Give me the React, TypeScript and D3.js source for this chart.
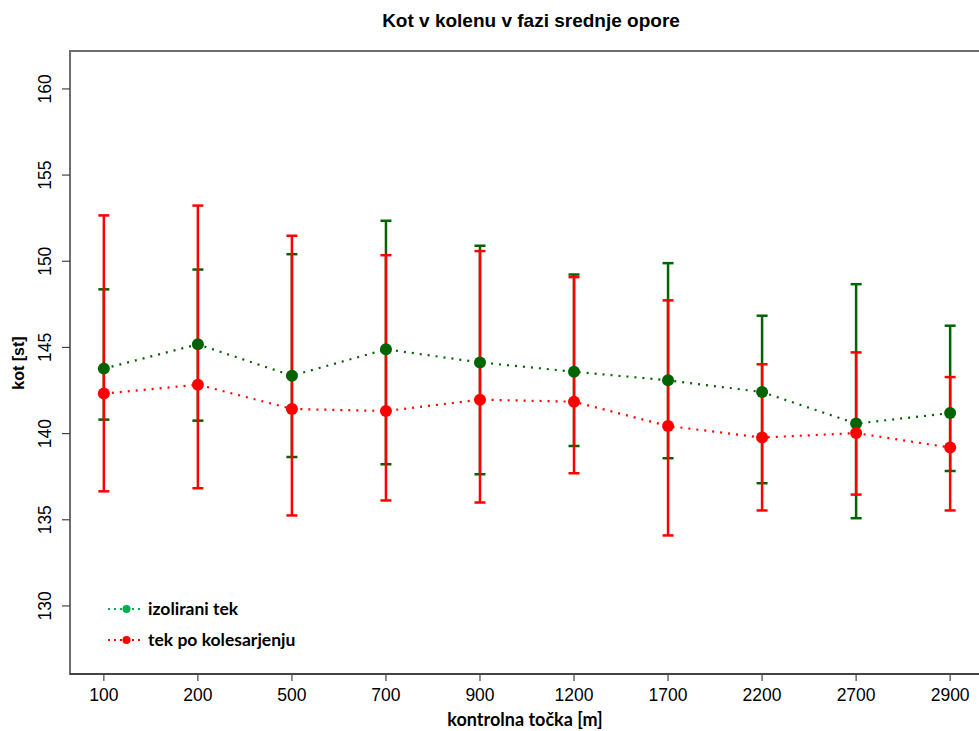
import React from 'react'
import * as d3 from 'd3'

const categories = ['100', '200', '500', '700', '900', '1200', '1700', '2200', '2700', '2900']

const izoMean = [143.77, 145.18, 143.36, 144.89, 144.13, 143.59, 143.09, 142.41, 140.58, 141.19]
const izoUpper = [148.37, 149.52, 150.41, 152.35, 150.9, 149.23, 149.89, 146.84, 148.67, 146.26]
const izoLower = [140.81, 140.75, 138.64, 138.22, 137.64, 139.28, 138.57, 137.12, 135.09, 137.83]

const kolMean = [142.32, 142.84, 141.43, 141.31, 141.97, 141.85, 140.44, 139.77, 140.03, 139.19]
const kolUpper = [152.66, 153.23, 151.48, 150.35, 150.59, 149.08, 147.73, 144.02, 144.71, 143.28]
const kolLower = [136.65, 136.83, 135.25, 136.12, 136.0, 137.7, 134.09, 135.54, 136.46, 135.54]

const yTicks = [130, 135, 140, 145, 150, 155, 160]

const legendItems = [
  { label: 'izolirani tek', colour: '#00b050' },
  { label: 'tek po kolesarjenju', colour: '#ff0000' }
]

const series = [
  { mean: izoMean, upper: izoUpper, lower: izoLower, colour: '#006400' },
  { mean: kolMean, upper: kolUpper, lower: kolLower, colour: '#ff0000' }
]

export default function App() {
  const width = 979
  const height = 731
  const left = 70
  const right = 984
  const top = 51
  const bottom = 674

  const xScale = d3.scaleLinear().domain([-0.36, 9.36]).range([left, right])
  const yScale = d3.scaleLinear().domain([126.05, 162.2]).range([bottom, top])
  const line = d3.line<number>().x((d, i) => xScale(i)).y(d => yScale(d))

  const tickFont = '"Liberation Sans", Arial, sans-serif'
  const labelFont = 'Lato, "Open Sans", sans-serif'

  const bars = series.map((s, si) => (
    <g key={`bars_${si}`} stroke={s.colour} strokeWidth={2.5}>
      {categories.map((c, i) => {
        const x = xScale(i)
        return (
          <g key={`bar_${si}_${i}`}>
            <line x1={x} x2={x} y1={yScale(s.upper[i])} y2={yScale(s.lower[i])} />
            <line x1={x - 5.5} x2={x + 5.5} y1={yScale(s.upper[i])} y2={yScale(s.upper[i])} />
            <line x1={x - 5.5} x2={x + 5.5} y1={yScale(s.lower[i])} y2={yScale(s.lower[i])} />
          </g>
        )
      })}
    </g>
  ))

  const lines = series.map((s, si) => (
    <g key={`line_${si}`}>
      <path d={line(s.mean) || ''} fill="none" stroke={s.colour} strokeWidth={2.2} strokeDasharray="2 6" />
      {s.mean.map((v, i) => (
        <circle key={`pt_${si}_${i}`} cx={xScale(i)} cy={yScale(v)} r={6} fill={s.colour} />
      ))}
    </g>
  ))

  return (
    <svg width={width} height={height} style={{ position: 'absolute', left: 0, top: 0, background: '#fff' }}>
      <text x={531} y={27} textAnchor="middle" fontFamily={tickFont}
        fontWeight="bold" fontSize={19}>Kot v kolenu v fazi srednje opore</text>

      {bars}
      {lines}

      <rect x={left} y={top} width={right - left} height={bottom - top} fill="none" stroke="#6e6e6e" strokeWidth={2} />
      <line x1={left} x2={right} y1={bottom} y2={bottom} stroke="#444" strokeWidth={2} />

      {yTicks.map(t => (
        <g key={`yt_${t}`}>
          <line x1={left - 8} x2={left} y1={yScale(t)} y2={yScale(t)} stroke="#444" strokeWidth={1.2} />
          <text transform={`translate(${51},${yScale(t)}) rotate(-90)`} textAnchor="middle" fontFamily={tickFont} fontSize={17.5}>{t}</text>
        </g>
      ))}

      {categories.map((c, i) => (
        <g key={`xt_${c}`}>
          <line x1={xScale(i)} x2={xScale(i)} y1={bottom} y2={bottom + 7} stroke="#444" strokeWidth={1.2} />
          <text x={xScale(i)} y={701} textAnchor="middle" fontFamily={tickFont} fontSize={17.5}>{c}</text>
        </g>
      ))}

      <text x={525} y={726} textAnchor="middle" fontFamily={labelFont} fontWeight="bold" fontSize={18}>kontrolna točka [m]</text>
      <text transform="translate(24,363) rotate(-90)" textAnchor="middle" fontFamily={tickFont} fontWeight="bold" fontSize={16}>kot [st]</text>

      {legendItems.map((d, i) => {
        const y = 609 + i * 31
        return (
          <g key={`lg_${i}`}>
            <line x1={108} x2={141} y1={y} y2={y} stroke={d.colour} strokeWidth={2.2} strokeDasharray="2 4" />
            <circle cx={126.5} cy={y} r={4} fill={d.colour} />
            <text x={148} y={y + 6} fontFamily={labelFont} fontWeight="bold" fontSize={17.5}>{d.label}</text>
          </g>
        )
      })}
    </svg>
  )
}
